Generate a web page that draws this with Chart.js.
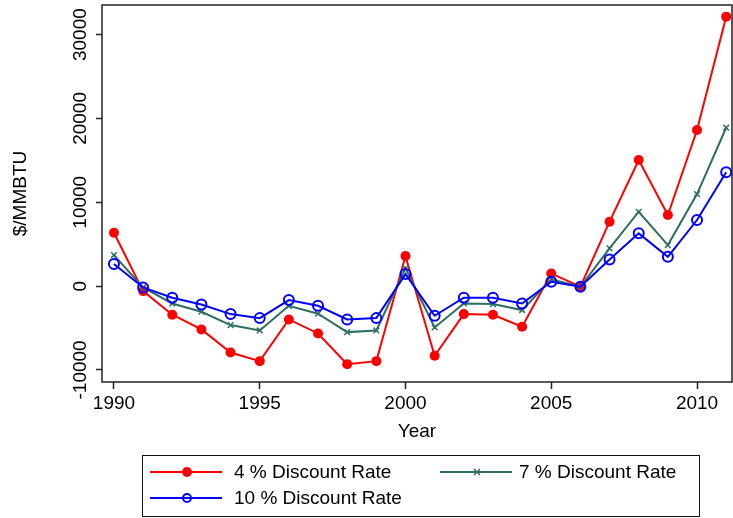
<!DOCTYPE html>
<html>
<head>
<meta charset="utf-8">
<script src="https://cdn.jsdelivr.net/npm/chart.js@4.4.0/dist/chart.umd.min.js"></script>
<style>
  html, body { margin: 0; padding: 0; background: #fff; }
</style>
</head>
<body>
<canvas id="chart" width="733" height="518"></canvas>
<script>
const years = [1990, 1991, 1992, 1993, 1994, 1995, 1996, 1997, 1998, 1999, 2000,
               2001, 2002, 2003, 2004, 2005, 2006, 2007, 2008, 2009, 2010, 2011];
const rate4 = [6360, -600, -3420, -5170, -7920, -8950, -3980, -5650, -9310, -8950, 3580,
               -8310, -3340, -3420, -4850, 1510, -80, 7680, 15040, 8470, 18620, 32140];
const rate7 = [3700, -160, -2070, -3060, -4650, -5290, -2350, -3300, -5490, -5290, 2110,
               -4930, -2070, -2150, -2860, 800, -80, 4500, 8870, 4890, 10980, 18890];
const rate10 = [2630, -160, -1390, -2190, -3340, -3820, -1670, -2350, -3980, -3820, 1430,
                -3540, -1390, -1390, -2070, 510, -80, 3180, 6290, 3500, 7880, 13570];
const seriesNames = ['4 % Discount Rate', '7 % Discount Rate', '10 % Discount Rate'];
const xTicks = [1990, 1995, 2000, 2005, 2010];
const yTicks = [-10000, 0, 10000, 20000, 30000];

const FONT = "'Liberation Sans', Arial, sans-serif";
const RED = '#ff0000';
const GREEN = '#2f6d60';
const BLUE = '#0000ff';

function toPoints(values) {
  return values.map((v, i) => ({ x: years[i], y: v }));
}

// keep the plot region fixed: no extra room for edge labels
function noEdgePadding(scale) {
  scale.paddingTop = 0;
  scale.paddingBottom = 0;
  scale.paddingLeft = 0;
  scale.paddingRight = 0;
}

// box around the plot region
const framePlugin = {
  id: 'frame',
  afterDatasetsDraw(chart) {
    const { ctx, chartArea: a } = chart;
    ctx.save();
    ctx.strokeStyle = '#222';
    ctx.lineWidth = 1.5;
    ctx.strokeRect(a.left, a.top, a.right - a.left, a.bottom - a.top);
    ctx.restore();
  }
};

function drawMarker(ctx, style, x, y, r, color) {
  ctx.save();
  ctx.strokeStyle = color;
  ctx.fillStyle = color;
  if (style === 'dot') {
    ctx.beginPath();
    ctx.arc(x, y, r, 0, Math.PI * 2);
    ctx.fill();
  } else if (style === 'ring') {
    ctx.lineWidth = 2;
    ctx.beginPath();
    ctx.arc(x, y, r, 0, Math.PI * 2);
    ctx.stroke();
  } else {
    ctx.lineWidth = 1.5;
    ctx.beginPath();
    ctx.moveTo(x - r, y - r); ctx.lineTo(x + r, y + r);
    ctx.moveTo(x - r, y + r); ctx.lineTo(x + r, y - r);
    ctx.stroke();
  }
  ctx.restore();
}

// Stata-style legend box under the axis title
const legendBoxPlugin = {
  id: 'legendBox',
  afterDraw(chart) {
    const ctx = chart.ctx;
    ctx.save();
    ctx.strokeStyle = '#111';
    ctx.lineWidth = 1;
    ctx.strokeRect(142.5, 455.5, 557, 61);
    const items = [
      { x: 150, y: 472, style: 'dot', r: 5, color: RED, text: seriesNames[0], gap: 84 },
      { x: 440, y: 472, style: 'cross', r: 3, color: GREEN, text: seriesNames[1], gap: 79 },
      { x: 150, y: 498, style: 'ring', r: 4, color: BLUE, text: seriesNames[2], gap: 84 }
    ];
    ctx.font = '19px ' + FONT;
    ctx.textBaseline = 'middle';
    items.forEach(it => {
      ctx.strokeStyle = it.color;
      ctx.lineWidth = 2;
      ctx.beginPath();
      ctx.moveTo(it.x, it.y);
      ctx.lineTo(it.x + 72, it.y);
      ctx.stroke();
      drawMarker(ctx, it.style, it.x + 37, it.y, it.r, it.color);
      ctx.fillStyle = '#000';
      ctx.fillText(it.text, it.x + it.gap, it.y + 1);
    });
    ctx.restore();
  }
};

new Chart(document.getElementById('chart'), {
  type: 'line',
  data: {
    datasets: [
      {
        label: seriesNames[0],
        data: toPoints(rate4),
        borderColor: RED,
        backgroundColor: RED,
        borderWidth: 2,
        pointStyle: 'circle',
        pointRadius: 5,
        pointBorderWidth: 0,
        order: 3
      },
      {
        label: seriesNames[1],
        data: toPoints(rate7),
        borderColor: GREEN,
        backgroundColor: GREEN,
        borderWidth: 2,
        pointStyle: 'crossRot',
        pointRadius: 4,
        pointBorderWidth: 1.5,
        order: 2
      },
      {
        label: seriesNames[2],
        data: toPoints(rate10),
        borderColor: BLUE,
        backgroundColor: 'rgba(0,0,0,0)',
        borderWidth: 2,
        pointStyle: 'circle',
        pointRadius: 5,
        pointBorderWidth: 2,
        order: 1
      }
    ]
  },
  options: {
    responsive: false,
    animation: false,
    layout: { autoPadding: false, padding: { left: 0, right: 1, top: 5, bottom: 76 } },
    plugins: {
      legend: { display: false },
      tooltip: { enabled: false }
    },
    scales: {
      x: {
        type: 'linear',
        min: 1989.59,
        max: 2011.2,
        afterBuildTicks: scale => { scale.ticks = xTicks.map(v => ({ value: v })); },
        afterFit: scale => { scale.height = 60; noEdgePadding(scale); },
        grid: { drawOnChartArea: false, tickLength: 7, tickColor: '#222', tickWidth: 1.5 },
        border: { display: false },
        ticks: {
          padding: 3,
          color: '#000',
          font: { family: FONT, size: 19 },
          callback: v => String(v),
          maxRotation: 0
        },
        title: {
          display: true,
          text: 'Year',
          color: '#000',
          font: { family: FONT, size: 19 },
          padding: { top: 0, bottom: -1.5 }
        }
      },
      y: {
        min: -11440,
        max: 33530,
        afterBuildTicks: scale => { scale.ticks = yTicks.map(v => ({ value: v })); },
        afterFit: scale => { scale.width = 102; noEdgePadding(scale); },
        grid: { drawOnChartArea: false, tickLength: 6, tickColor: '#222', tickWidth: 1.5 },
        border: { display: false },
        ticks: {
          padding: -14,
          crossAlign: 'center',
          minRotation: 90,
          maxRotation: 90,
          color: '#000',
          font: { family: FONT, size: 19 },
          callback: v => String(v)
        },
        title: {
          display: true,
          text: '$/MMBTU',
          color: '#000',
          font: { family: FONT, size: 19 },
          padding: { top: 9, bottom: 0 }
        }
      }
    }
  },
  plugins: [framePlugin, legendBoxPlugin]
});
</script>
</body>
</html>
